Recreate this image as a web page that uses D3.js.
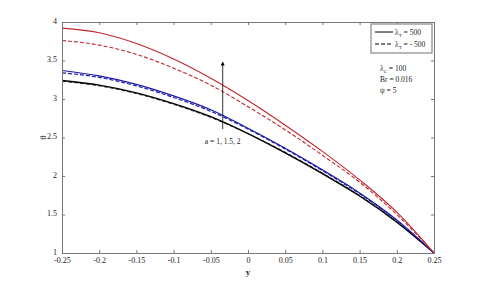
<!DOCTYPE html>
<html>
<head>
<meta charset="utf-8">
<script src="https://cdn.jsdelivr.net/npm/d3@7"></script>
<style>
body { margin: 0; background: #fff; }
svg text { font-family: "Liberation Serif", "DejaVu Serif", serif; fill: #222; }
</style>
</head>
<body>
<div class="container"></div>
<script>
const yValues = [-0.25, -0.2, -0.15, -0.1, -0.05, 0, 0.05, 0.1, 0.15, 0.2, 0.25];

const redSolid = [3.92, 3.86, 3.72, 3.52, 3.27, 2.98, 2.66, 2.32, 1.95, 1.53, 1.0];
const redDashed = [3.76, 3.70, 3.58, 3.40, 3.18, 2.90, 2.60, 2.27, 1.92, 1.50, 1.0];
const blueSolid = [3.37, 3.30, 3.19, 3.04, 2.86, 2.62, 2.36, 2.08, 1.78, 1.43, 1.0];
const blueDashed = [3.34, 3.28, 3.17, 3.02, 2.84, 2.61, 2.35, 2.07, 1.77, 1.42, 1.0];
const blackSolid = [3.24, 3.18, 3.08, 2.94, 2.77, 2.55, 2.30, 2.03, 1.74, 1.40, 1.0];
const blackDashed = [3.23, 3.17, 3.07, 2.93, 2.76, 2.55, 2.31, 2.04, 1.75, 1.41, 1.0];

const xTicks = [-0.25, -0.2, -0.15, -0.1, -0.05, 0, 0.05, 0.1, 0.15, 0.2, 0.25];
const yTicks = [1, 1.5, 2, 2.5, 3, 3.5, 4];

const w = 480;
const h = 285;
const margin = { top: 22, right: 46, bottom: 32, left: 62 };

const svg = d3.select('.container')
    .append('svg')
    .attr('width', w)
    .attr('height', h);

const x = d3.scaleLinear().domain([-0.25, 0.25]).range([margin.left, w - margin.right]);
const y = d3.scaleLinear().domain([1, 4]).range([h - margin.bottom, margin.top]);

// curves
const series = [
    { v: blackSolid, color: '#000', dash: null, width: 1.4 },
    { v: blackDashed, color: '#000', dash: '4,2', width: 0.8 },
    { v: blueSolid, color: '#1a1aa8', dash: null, width: 1.2 },
    { v: blueDashed, color: '#1a1aa8', dash: '4,2', width: 1.2 },
    { v: redSolid, color: '#c0272d', dash: null, width: 1.1 },
    { v: redDashed, color: '#c0272d', dash: '4,2', width: 1.1 }
];

const line = d3.line()
    .x((d, i) => x(yValues[i]))
    .y(d => y(d))
    .curve(d3.curveMonotoneX);

svg.append('g')
    .selectAll('path')
    .data(series)
    .join('path')
    .attr('fill', 'none')
    .attr('stroke', d => d.color)
    .attr('stroke-width', d => d.width)
    .attr('stroke-dasharray', d => d.dash)
    .attr('d', d => line(d.v));

// axes, MATLAB style with inward ticks on all sides
const axisStyle = g => {
    g.select('.domain').attr('stroke', '#777');
    g.selectAll('.tick line').attr('stroke', '#777');
    g.selectAll('.tick text').style('font-size', '8px').attr('fill', '#222');
};

svg.append('g')
    .attr('transform', `translate(0,${h - margin.bottom})`)
    .call(d3.axisBottom(x).tickValues(xTicks).tickSize(-3).tickPadding(4).tickFormat(d => String(d)))
    .call(axisStyle);

svg.append('g')
    .attr('transform', `translate(0,${margin.top})`)
    .call(d3.axisTop(x).tickValues(xTicks).tickSize(-3).tickFormat(''))
    .call(axisStyle);

svg.append('g')
    .attr('transform', `translate(${margin.left},0)`)
    .call(d3.axisLeft(y).tickValues(yTicks).tickSize(-3).tickPadding(5).tickFormat(d => String(d)))
    .call(axisStyle)
    .call(g => g.selectAll('.tick text').attr('dy', '0.15em'));

svg.append('g')
    .attr('transform', `translate(${w - margin.right},0)`)
    .call(d3.axisRight(y).tickValues(yTicks).tickSize(-3).tickFormat(''))
    .call(axisStyle);

// axis labels
svg.append('text')
    .attr('transform', `translate(46,${(margin.top + h - margin.bottom) / 2}) rotate(-90)`)
    .attr('text-anchor', 'middle')
    .style('font-size', '9px')
    .text('θ');

svg.append('text')
    .attr('x', x(0))
    .attr('y', 275)
    .attr('text-anchor', 'middle')
    .style('font-size', '9px')
    .style('font-weight', 'bold')
    .text('y');

// legend
const lg = svg.append('g');
lg.append('rect')
    .attr('x', 371).attr('y', 24).attr('width', 61).attr('height', 29)
    .attr('fill', '#fff').attr('stroke', '#888').attr('stroke-width', 1.2);

const legendItems = [
    { label: ' = 500', dash: null, yy: 32 },
    { label: ' = - 500', dash: '4,2', yy: 44 }
];
legendItems.forEach(d => {
    lg.append('line')
        .attr('x1', 375).attr('x2', 393).attr('y1', d.yy).attr('y2', d.yy)
        .attr('stroke', '#000').attr('stroke-width', 1)
        .attr('stroke-dasharray', d.dash);
    const t = lg.append('text')
        .attr('x', 395).attr('y', d.yy + 3)
        .style('font-size', '7.5px');
    t.append('tspan').text('λ');
    t.append('tspan').attr('dy', 2).style('font-size', '5px').text('T');
    t.append('tspan').attr('dy', -2).text(d.label);
});

// parameters
const p1 = svg.append('text').attr('x', 380).attr('y', 71).style('font-size', '7.5px');
p1.append('tspan').text('λ');
p1.append('tspan').attr('dy', 2).style('font-size', '5px').text('C');
p1.append('tspan').attr('dy', -2).text(' = 100');

svg.append('text').attr('x', 380).attr('y', 82).style('font-size', '7.5px').text('Br = 0.016');
svg.append('text').attr('x', 380).attr('y', 93).style('font-size', '7.5px').text('ψ = 5');

// arrow
svg.append('defs').append('marker')
    .attr('id', 'ah')
    .attr('viewBox', '0 0 10 10')
    .attr('refX', 9).attr('refY', 5)
    .attr('markerWidth', 5).attr('markerHeight', 6)
    .attr('orient', 'auto')
    .append('path')
    .attr('d', 'M0,0L10,5L0,10z')
    .attr('fill', '#000');

svg.append('line')
    .attr('x1', x(-0.034)).attr('x2', x(-0.034))
    .attr('y1', 129).attr('y2', 62)
    .attr('stroke', '#000').attr('stroke-width', 0.8)
    .attr('marker-end', 'url(#ah)');

svg.append('text')
    .attr('x', x(-0.034)).attr('y', 144)
    .attr('text-anchor', 'middle')
    .style('font-size', '7.5px')
    .text('a = 1, 1.5, 2');
</script>
</body>
</html>
